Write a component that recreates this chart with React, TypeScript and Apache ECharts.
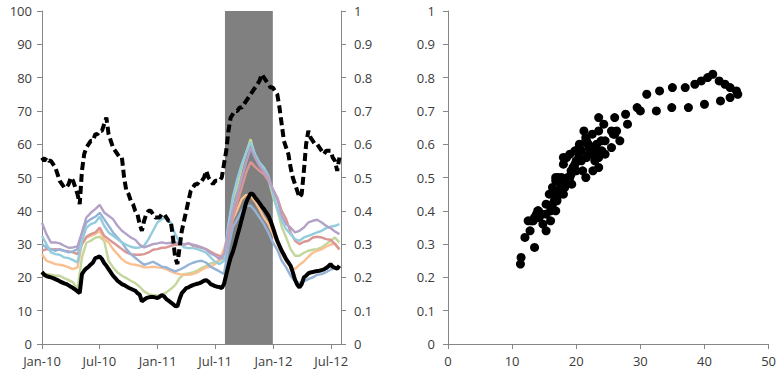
import React, { useEffect, useRef } from "react";
import * as echarts from "echarts";

// ---------- data ----------
const START = new Date(2010, 0, 1).getTime();
const END = new Date(2012, 7, 1).getTime();
const DAY = 86400000;
const BAND_START = new Date(2011, 7, 1).getTime();
const BAND_END = new Date(2011, 11, 30).getTime();

// weekly series (first value = 1 Jan 2010, one value per week)
const implVol = [
  21.6, 20.8, 20.4, 20.2, 20.0, 19.8, 19.5, 19.2, 18.8, 18.5,
  18.2, 18.0, 17.6, 17.2, 16.8, 16.3, 15.8, 15.3, 21.0, 22.0,
  22.7, 23.2, 23.9, 24.5, 25.8, 26.0, 26.3, 25.5, 24.3, 23.5,
  22.5, 21.5, 20.5, 19.8, 19.0, 18.5, 18.0, 17.7, 17.3, 16.9,
  16.6, 16.3, 16.0, 15.3, 14.8, 12.8, 13.3, 13.8, 14.0, 14.1,
  14.1, 14.0, 13.8, 14.2, 14.7, 14.3, 13.5, 13.0, 12.5, 12.0,
  11.4, 11.3, 13.5, 15.3, 16.0, 16.8, 17.0, 17.4, 17.7, 17.9,
  18.1, 18.3, 18.6, 19.0, 19.2, 18.7, 18.0, 17.7, 17.4, 17.2,
  17.1, 16.8, 18.0, 20.8, 23.5, 26.0, 27.7, 30.0, 32.5, 34.9,
  37.5, 40.0, 42.5, 44.0, 45.2, 45.0, 44.0, 43.2, 42.3, 41.3,
  40.5, 39.5, 38.5, 37.0, 35.0, 33.0, 31.0, 29.5, 28.0, 26.8,
  25.5, 24.5, 23.5, 21.5, 19.3, 17.8, 17.0, 18.0, 20.0, 20.5,
  21.2, 21.5, 21.6, 21.8, 21.9, 22.0, 22.2, 22.4, 22.8, 23.3,
  24.0, 23.2, 22.9, 22.6, 23.5,
];

const correlation = [
  0.56, 0.55, 0.56, 0.55, 0.55, 0.54, 0.53, 0.51, 0.49, 0.48,
  0.47, 0.47, 0.48, 0.50, 0.49, 0.47, 0.45, 0.42, 0.52, 0.57,
  0.59, 0.60, 0.61, 0.61, 0.63, 0.63, 0.64, 0.64, 0.66, 0.68,
  0.63, 0.61, 0.59, 0.58, 0.57, 0.56, 0.56, 0.50, 0.46, 0.45,
  0.43, 0.42, 0.40, 0.39, 0.36, 0.34, 0.37, 0.39, 0.40, 0.40,
  0.39, 0.38, 0.38, 0.38, 0.39, 0.39, 0.38, 0.37, 0.37, 0.32,
  0.26, 0.24, 0.29, 0.34, 0.37, 0.40, 0.43, 0.46, 0.47, 0.48,
  0.48, 0.49, 0.49, 0.50, 0.52, 0.50, 0.49, 0.48, 0.49, 0.49,
  0.49, 0.50, 0.54, 0.58, 0.64, 0.68, 0.69, 0.70, 0.70, 0.71,
  0.71, 0.72, 0.73, 0.74, 0.75, 0.76, 0.77, 0.78, 0.79, 0.81,
  0.80, 0.79, 0.78, 0.77, 0.77, 0.76, 0.75, 0.71, 0.66, 0.61,
  0.59, 0.57, 0.53, 0.50, 0.48, 0.46, 0.44, 0.45, 0.52, 0.60,
  0.64, 0.62, 0.61, 0.60, 0.60, 0.59, 0.58, 0.57, 0.58, 0.58,
  0.58, 0.56, 0.55, 0.52, 0.56,
];

// fortnightly series (first value = 1 Jan 2010, one value every 14 days)
const purpleSeries = [
  36.4, 33.0, 30.5, 30.5, 30.2, 29.5, 28.9, 29.0, 29.3, 33.5,
  38.0, 39.4, 40.5, 41.8, 39.5, 38.5, 37.5, 35.5, 34.0, 33.0,
  32.0, 31.3, 29.8, 29.0, 29.5, 30.0, 30.2, 30.5, 30.2, 30.4,
  30.5, 30.2, 30.0, 30.2, 29.8, 29.5, 29.0, 28.3, 27.2, 26.5,
  25.5, 27.0, 34.0, 40.3, 45.0, 50.0, 54.5, 59.0, 56.0, 53.5,
  51.8, 50.0, 46.5, 43.5, 38.5, 36.0, 35.0, 33.5, 34.0, 35.0,
  36.5, 37.0, 37.3, 36.5, 35.5, 34.8, 33.8, 33.0,
];
const cyanSeries = [
  32.5, 30.0, 27.5, 27.0, 26.8, 26.0, 25.8, 25.2, 24.5, 31.0,
  34.9, 36.0, 36.5, 38.2, 35.5, 33.5, 32.5, 31.5, 30.5, 29.8,
  29.2, 28.9, 29.0, 29.5, 31.5, 34.0, 36.5, 37.5, 38.0, 36.5,
  33.0, 30.5, 29.0, 28.8, 28.8, 28.5, 28.0, 27.4, 26.0, 24.7,
  24.0, 25.0, 36.0, 44.2, 49.5, 54.0, 57.5, 60.5, 57.0, 54.5,
  53.0, 50.5, 45.5, 40.5, 37.0, 34.5, 33.0, 31.5, 31.0, 32.0,
  32.5, 33.0, 33.5, 34.0, 34.8, 35.2, 35.5, 36.0,
];
const blueSeries = [
  30.0, 29.0, 28.5, 28.0, 28.5, 28.0, 27.5, 27.8, 28.5, 33.0,
  36.5, 37.5, 38.2, 39.4, 37.5, 35.5, 33.5, 32.0, 30.5, 28.5,
  27.0, 25.9, 24.8, 23.8, 24.2, 24.7, 24.0, 23.2, 23.0, 22.3,
  21.8, 22.3, 23.0, 23.8, 24.4, 24.8, 25.0, 24.4, 23.2, 22.5,
  21.8, 21.0, 29.0, 35.2, 37.5, 40.0, 41.5, 41.5, 40.0, 38.0,
  36.0, 33.5, 30.5, 28.3, 25.0, 23.0, 20.5, 18.8, 18.3, 18.8,
  19.5, 20.0, 20.8, 21.0, 21.6, 22.3, 22.8, 23.2,
];
const redSeries = [
  28.0, 28.5, 28.3, 28.5, 28.3, 28.0, 27.8, 27.5, 27.0, 30.0,
  32.2, 33.0, 33.5, 35.0, 32.5, 31.5, 30.5, 29.5, 28.5, 27.5,
  27.0, 26.8, 26.8, 27.0, 27.5, 28.3, 28.5, 28.9, 29.0, 29.5,
  29.8, 29.8, 29.8, 30.2, 29.5, 29.2, 28.9, 28.5, 27.7, 27.0,
  26.5, 25.5, 32.0, 38.0, 42.5, 47.0, 51.5, 54.7, 53.2, 52.0,
  51.0, 49.0, 46.5, 44.0, 40.0, 37.5, 33.5, 31.0, 30.0, 30.7,
  31.0, 32.0, 32.2, 32.0, 31.5, 31.3, 30.0, 28.5,
];
const orangeSeries = [
  27.0, 25.0, 24.5, 24.0, 23.8, 23.5, 23.0, 22.5, 23.0, 30.0,
  31.9, 32.5, 33.0, 34.0, 31.5, 30.5, 28.5, 27.0, 25.5, 24.5,
  24.0, 23.8, 23.5, 23.0, 23.0, 23.2, 23.0, 22.9, 22.5, 21.8,
  21.3, 21.0, 20.8, 20.8, 21.0, 21.5, 22.3, 23.0, 23.2, 24.0,
  25.5, 28.5, 33.0, 37.5, 40.3, 43.5, 44.8, 44.5, 42.8, 40.5,
  38.0, 36.0, 33.0, 30.0, 27.0, 24.8, 23.0, 22.5, 23.8, 24.8,
  26.2, 27.4, 28.0, 28.5, 29.2, 29.8, 30.2, 28.3,
];
const greenSeries = [
  21.0, 21.0, 20.8, 20.5, 20.5, 19.8, 19.2, 18.5, 16.5, 26.0,
  30.4, 31.0, 31.9, 32.2, 31.0, 25.0, 23.0, 21.5, 20.5, 19.8,
  19.0, 18.3, 17.2, 15.8, 15.0, 14.7, 14.5, 14.7, 15.5, 16.5,
  17.7, 19.8, 21.0, 21.2, 21.5, 22.0, 22.9, 23.5, 24.2, 24.5,
  25.0, 26.0, 35.2, 43.3, 47.5, 53.0, 57.5, 61.5, 56.2, 54.0,
  52.0, 49.5, 44.5, 40.3, 35.2, 32.0, 28.5, 26.5, 26.5, 27.4,
  28.0, 28.3, 28.5, 29.0, 30.0, 31.0, 32.0, 30.5,
];

const MONTHS = ["Jan", "Feb", "Mar", "Apr", "May", "Jun", "Jul", "Aug", "Sep", "Oct", "Nov", "Dec"];

const colouredLines = [
  { name: "S1", data: greenSeries, color: "#c3d69b" },
  { name: "S2", data: orangeSeries, color: "#fac090" },
  { name: "S3", data: redSeries, color: "#d99694" },
  { name: "S4", data: blueSeries, color: "#95b3d7" },
  { name: "S5", data: cyanSeries, color: "#93cddd" },
  { name: "S6", data: purpleSeries, color: "#b3a2c7" },
];

const TEXT = "#3b3b3b";
const AXIS = "#868686";
const FONT = "Open Sans";

export default function App() {
  const ref = useRef<HTMLDivElement>(null);

  useEffect(() => {
    if (!ref.current) return;
    const chart = echarts.init(ref.current, null, { renderer: "svg" });

    const weekly = (arr: number[]) => arr.map((v, i) => [START + i * 7 * DAY, v]);
    const fortnightly = (arr: number[]) => arr.map((v, i) => [START + i * 14 * DAY, v]);
    const scatterData = implVol.map((v, i) => [v, correlation[i]]);

    const label = { color: TEXT, fontSize: 13, fontFamily: FONT };
    const axisLine = { show: true, lineStyle: { color: AXIS, width: 1 } };
    const axisTick = { show: true, length: 5, lineStyle: { color: AXIS } };

    chart.setOption({
      animation: false,
      backgroundColor: "#ffffff",
      textStyle: { fontFamily: FONT },
      grid: [
        { left: 42, top: 11, width: 299, height: 333 },
        { left: 448, top: 11, width: 323, height: 333 },
      ],
      xAxis: [
        {
          type: "time",
          gridIndex: 0,
          min: START,
          max: END,
          splitNumber: 5,
          axisLine,
          axisTick,
          splitLine: { show: false },
          axisLabel: {
            ...label,
            margin: 10,
            formatter: (val: number) => {
              const d = new Date(val);
              return `${MONTHS[d.getMonth()]}-${String(d.getFullYear()).slice(2)}`;
            },
          },
        },
        {
          type: "value",
          gridIndex: 1,
          min: 0,
          max: 50,
          interval: 10,
          axisLine,
          axisTick,
          splitLine: { show: false },
          axisLabel: { ...label, margin: 10 },
        },
      ],
      yAxis: [
        {
          type: "value",
          gridIndex: 0,
          min: 0,
          max: 100,
          interval: 10,
          axisLine,
          axisTick,
          splitLine: { show: false },
          axisLabel: { ...label, margin: 10 },
        },
        {
          type: "value",
          gridIndex: 0,
          position: "right",
          min: 0,
          max: 1,
          interval: 0.1,
          axisLine,
          axisTick,
          splitLine: { show: false },
          axisLabel: { ...label, margin: 13 },
        },
        {
          type: "value",
          gridIndex: 1,
          min: 0,
          max: 1,
          interval: 0.1,
          axisLine,
          axisTick,
          splitLine: { show: false },
          axisLabel: { ...label, margin: 13 },
        },
      ],
      series: [
        {
          name: "band",
          type: "line",
          xAxisIndex: 0,
          yAxisIndex: 0,
          data: [],
          silent: true,
          markArea: {
            silent: true,
            itemStyle: { color: "#808080", opacity: 1 },
            data: [[{ xAxis: BAND_START }, { xAxis: BAND_END }]],
          },
        },
        ...colouredLines.map((s) => ({
          name: s.name,
          type: "line",
          xAxisIndex: 0,
          yAxisIndex: 0,
          data: fortnightly(s.data),
          showSymbol: false,
          symbol: "none",
          z: 3,
          lineStyle: { color: s.color, width: 2.4 },
        })),
        {
          name: "implied",
          type: "line",
          xAxisIndex: 0,
          yAxisIndex: 0,
          data: weekly(implVol),
          showSymbol: false,
          symbol: "none",
          z: 4,
          lineStyle: { color: "#000000", width: 4 },
        },
        {
          name: "correlation",
          type: "line",
          xAxisIndex: 0,
          yAxisIndex: 1,
          data: weekly(correlation),
          showSymbol: false,
          symbol: "none",
          z: 5,
          lineStyle: { color: "#000000", width: 4, type: [8, 4] },
        },
        {
          name: "scatter",
          type: "scatter",
          xAxisIndex: 1,
          yAxisIndex: 2,
          data: scatterData,
          symbolSize: 9,
          itemStyle: { color: "#000000", opacity: 1 },
        },
      ],
    });

    return () => chart.dispose();
  }, []);

  return (
    <div
      ref={ref}
      style={{ position: "fixed", left: 0, top: 0, width: 779, height: 370, background: "#fff" }}
    />
  );
}
